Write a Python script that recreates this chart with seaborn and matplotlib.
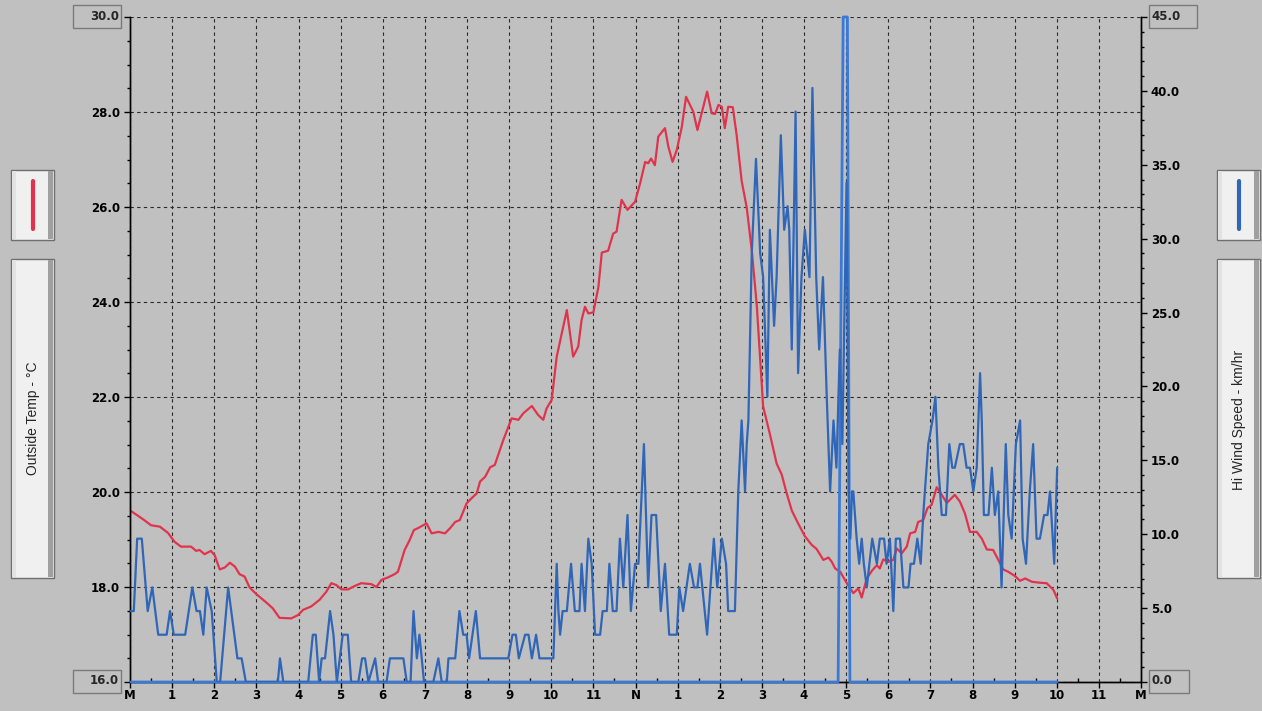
import numpy as np
import pandas as pd
import seaborn as sns
import matplotlib.pyplot as plt
from matplotlib.patches import Rectangle
from matplotlib.lines import Line2D

# ---- data (hours since midnight) ----
temp_hours = [0.02, 0.19, 0.35, 0.50, 0.71, 0.90, 1.06, 1.21, 1.45, 1.57, 1.65, 1.77, 1.92, 2.01,
              2.13, 2.25, 2.37, 2.49, 2.60, 2.72, 2.84, 3.00, 3.16, 3.28, 3.39, 3.55, 3.83, 3.99,
              4.11, 4.30, 4.50, 4.66, 4.78, 4.90, 5.02, 5.18, 5.33, 5.49, 5.73, 5.85, 5.97, 6.12,
              6.28, 6.36, 6.52, 6.64, 6.74, 6.84, 7.04, 7.16, 7.32, 7.48, 7.60, 7.72, 7.83, 7.99,
              8.11, 8.23, 8.31, 8.43, 8.55, 8.66, 8.86, 9.06, 9.22, 9.34, 9.54, 9.69, 9.81, 9.89,
              10.01, 10.13, 10.25, 10.37, 10.52, 10.64, 10.72, 10.80, 10.88, 11.00, 11.12, 11.20,
              11.35, 11.47, 11.55, 11.67, 11.81, 11.99, 12.11, 12.23, 12.30, 12.37, 12.46, 12.54,
              12.70, 12.78, 12.88, 12.98, 13.10, 13.20, 13.37, 13.47, 13.57, 13.70, 13.81, 13.89,
              13.97, 14.05, 14.12, 14.20, 14.31, 14.40, 14.52, 14.64, 14.76, 14.88, 15.03, 15.19,
              15.35, 15.47, 15.59, 15.71, 15.86, 16.02, 16.18, 16.30, 16.46, 16.58, 16.66, 16.74,
              16.86, 17.01, 17.17, 17.29, 17.37, 17.49, 17.61, 17.73, 17.80, 17.88, 18.00, 18.12,
              18.20, 18.32, 18.44, 18.52, 18.64, 18.71, 18.83, 18.93, 19.03, 19.15, 19.27, 19.39,
              19.58, 19.70, 19.82, 19.94, 20.10, 20.22, 20.34, 20.49, 20.73, 20.85, 21.01, 21.13,
              21.25, 21.41, 21.60, 21.76, 21.92, 22.01]
temp_c = [19.60, 19.50, 19.40, 19.30, 19.27, 19.14, 18.95, 18.85, 18.85, 18.76, 18.78, 18.69, 18.76, 18.67,
          18.37, 18.41, 18.51, 18.43, 18.27, 18.22, 17.99, 17.85, 17.73, 17.64, 17.55, 17.35, 17.34, 17.41,
          17.52, 17.59, 17.73, 17.90, 18.08, 18.04, 17.95, 17.95, 18.02, 18.08, 18.06, 18.00, 18.15, 18.20,
          18.27, 18.32, 18.78, 18.99, 19.20, 19.24, 19.34, 19.13, 19.16, 19.13, 19.24, 19.37, 19.41, 19.76,
          19.87, 19.97, 20.22, 20.32, 20.52, 20.57, 21.09, 21.55, 21.52, 21.66, 21.81, 21.62, 21.52, 21.76,
          21.94, 22.85, 23.34, 23.83, 22.85, 23.06, 23.62, 23.90, 23.76, 23.78, 24.32, 25.04,
          25.08, 25.44, 25.48, 26.15, 25.94, 26.11, 26.50, 26.95, 26.92, 27.02, 26.88, 27.48,
          27.66, 27.27, 26.95, 27.20, 27.69, 28.32, 28.01, 27.62, 27.97, 28.43, 27.97, 27.96,
          28.15, 28.11, 27.66, 28.11, 28.10, 27.52, 26.55, 25.99, 25.09, 23.92, 21.80, 21.22,
          20.60, 20.37, 19.97, 19.61, 19.34, 19.07, 18.89, 18.80, 18.57, 18.62, 18.53, 18.39,
          18.32, 18.09, 17.87, 17.97, 17.78, 18.18, 18.34, 18.46, 18.39, 18.58, 18.53, 18.57,
          18.81, 18.71, 18.85, 19.13, 19.16, 19.37, 19.41, 19.66, 19.73, 20.10, 19.94, 19.77,
          19.94, 19.80, 19.55, 19.16, 19.16, 19.02, 18.79, 18.78, 18.37, 18.32, 18.23, 18.13,
          18.18, 18.11, 18.09, 18.08, 17.94, 17.76]

wind_hours = [0.02, 0.09, 0.17, 0.28, 0.42, 0.53, 0.67, 0.87, 0.95, 1.04, 1.31, 1.48, 1.58, 1.66,
              1.74, 1.82, 1.94, 2.06, 2.14, 2.33, 2.55, 2.65, 2.75, 3.51, 3.56, 3.64, 4.23, 4.34,
              4.41, 4.49, 4.55, 4.63, 4.75, 4.83, 4.91, 5.05, 5.17, 5.25, 5.42, 5.51, 5.58, 5.66,
              5.82, 5.89, 6.09, 6.17, 6.49, 6.57, 6.66, 6.73, 6.81, 6.87, 6.98, 7.20, 7.32, 7.40,
              7.52, 7.56, 7.72, 7.82, 7.91, 7.99, 8.05, 8.21, 8.31, 8.98, 9.08, 9.16, 9.23, 9.38,
              9.46, 9.54, 9.64, 9.72, 10.05, 10.13, 10.17, 10.21, 10.27, 10.37, 10.47, 10.56,
              10.67, 10.72, 10.80, 10.88, 10.96, 11.04, 11.16, 11.22, 11.32, 11.38, 11.46, 11.55,
              11.63, 11.71, 11.81, 11.89, 11.99, 12.07, 12.20, 12.30, 12.38, 12.49, 12.60, 12.70,
              12.80, 12.98, 13.04, 13.13, 13.29, 13.39, 13.47, 13.53, 13.70, 13.86, 13.94, 14.05,
              14.15, 14.20, 14.36, 14.44, 14.52, 14.60, 14.64, 14.68, 14.76, 14.86, 14.96, 15.03,
              15.13, 15.19, 15.29, 15.35, 15.45, 15.53, 15.61, 15.65, 15.71, 15.80, 15.86, 15.94,
              16.02, 16.13, 16.20, 16.29, 16.36, 16.45, 16.54, 16.62, 16.70, 16.77, 16.85, 16.91,
              17.01, 17.06, 17.10, 17.14, 17.17, 17.25, 17.31, 17.37, 17.42, 17.49, 17.62, 17.73,
              17.80, 17.90, 17.96, 18.04, 18.12, 18.18, 18.28, 18.36, 18.48, 18.53, 18.61, 18.69,
              18.77, 18.83, 18.95, 19.05, 19.12, 19.19, 19.27, 19.37, 19.45, 19.52, 19.58, 19.70,
              19.78, 19.86, 19.94, 20.02, 20.10, 20.18, 20.22, 20.27, 20.38, 20.46, 20.53, 20.61,
              20.69, 20.79, 20.85, 20.93, 21.03, 21.13, 21.19, 21.27, 21.36, 21.44, 21.52, 21.60,
              21.70, 21.78, 21.84, 21.94, 22.01]
wind_kmh = [4.8, 4.8, 9.7, 9.7, 4.8, 6.4, 3.2, 3.2, 4.8, 3.2, 3.2, 6.4, 4.8, 4.8,
            3.2, 6.4, 4.8, 0.0, 0.0, 6.4, 1.6, 1.6, 0.0, 0.0, 1.6, 0.0, 0.0, 3.2,
            3.2, 0.0, 1.6, 1.6, 4.8, 3.2, 0.0, 3.2, 3.2, 0.0, 0.0, 1.6, 1.6, 0.0,
            1.6, 0.0, 0.0, 1.6, 1.6, 0.0, 0.0, 4.8, 1.6, 3.2, 0.0, 0.0, 1.6, 0.0,
            0.0, 1.6, 1.6, 4.8, 3.2, 3.2, 1.6, 4.8, 1.6, 1.6, 3.2, 3.2, 1.6, 3.2,
            3.2, 1.6, 3.2, 1.6, 1.6, 8.0, 4.8, 3.2, 4.8, 4.8, 8.0, 4.8,
            4.8, 8.0, 4.8, 9.7, 8.0, 3.2, 3.2, 4.8, 4.8, 8.0, 4.8, 4.8,
            9.7, 6.4, 11.3, 4.8, 8.0, 8.0, 16.1, 6.4, 11.3, 11.3, 4.8, 8.0,
            3.2, 3.2, 6.4, 4.8, 8.0, 6.4, 6.4, 8.0, 3.2, 9.7, 6.4, 9.7,
            8.0, 4.8, 4.8, 12.9, 17.7, 12.9, 16.1, 17.7, 29.0, 35.4, 29.0, 27.4,
            19.3, 30.6, 24.1, 27.4, 37.0, 30.6, 32.2, 30.6, 22.5, 38.6, 20.9, 27.4,
            30.6, 27.4, 40.2, 27.4, 22.5, 27.4, 19.3, 12.9, 17.7, 14.5, 22.5, 16.1,
            33.8, 12.9, 9.7, 12.9, 12.9, 9.7, 8.0, 9.7, 8.0, 6.4, 9.7, 8.0,
            9.7, 9.7, 8.0, 9.7, 4.8, 9.7, 9.7, 6.4, 6.4, 8.0, 8.0, 9.7,
            8.0, 11.3, 16.1, 17.7, 19.3, 14.5, 11.3, 11.3, 16.1, 14.5, 14.5, 16.1,
            16.1, 14.5, 14.5, 12.9, 14.5, 20.9, 17.7, 11.3, 11.3, 14.5, 11.3, 12.9,
            6.4, 16.1, 11.3, 9.7, 16.1, 17.7, 9.7, 8.0, 12.9, 16.1, 9.7, 9.7,
            11.3, 11.3, 12.9, 8.0, 14.5]

# second wind trace: flat zero with a single glitch spike
spike_hours = [0.02, 16.81, 16.93, 17.03, 17.09, 22.01]
spike_kmh = [0.0, 0.0, 45.0, 45.0, 0.0, 0.0]

hour_labels = ['M', '1', '2', '3', '4', '5', '6', '7', '8', '9', '10', '11',
               'N', '1', '2', '3', '4', '5', '6', '7', '8', '9', '10', '11', 'M']

BG = '#c0c0c0'
RED = '#e1344c'
BLUE = '#2f66b8'
LBLUE = '#3a7ad6'

sns.set_style('ticks')
plt.rcParams['font.family'] = ['DejaVu Sans']

W, H = 1262, 711
def fx(px):
    return px / W
def fy(py):
    return 1 - py / H

fig = plt.figure(figsize=(W / 100, H / 100), dpi=100, facecolor=BG)
ax = fig.add_axes([fx(130), fy(682), fx(1141) - fx(130), fy(17) - fy(682)])
ax.set_facecolor(BG)
ax2 = ax.twinx()

df_t = pd.DataFrame({'hour': temp_hours, 'temp': temp_c})
df_w = pd.DataFrame({'hour': wind_hours, 'wind': wind_kmh})
df_s = pd.DataFrame({'hour': spike_hours, 'wind': spike_kmh})

sns.lineplot(data=df_t, x='hour', y='temp', ax=ax, color=RED, lw=1.6,
             estimator=None, sort=False, legend=False)
sns.lineplot(data=df_s, x='hour', y='wind', ax=ax2, color=LBLUE, lw=2.0,
             estimator=None, sort=False, legend=False, clip_on=False, zorder=3)
sns.lineplot(data=df_w, x='hour', y='wind', ax=ax2, color=BLUE, lw=1.6,
             estimator=None, sort=False, legend=False, zorder=4)

ax.set_xlim(0, 24)
ax.set_ylim(16, 30)
ax2.set_ylim(0, 45)

# grid
ax.grid(True, which='major', color='#2a2a2a', linestyle=(0, (3, 3)), lw=0.8)
ax2.grid(False)

for a in (ax, ax2):
    a.set_xlabel('')
    a.set_ylabel('')
    a.spines['top'].set_visible(False)
    for s in ('left', 'right', 'bottom'):
        a.spines[s].set_color('black')
        a.spines[s].set_linewidth(1.0)

# ticks
ax.set_xticks(range(25))
ax.set_xticks(np.arange(0.5, 24, 1), minor=True)
ax.set_xticklabels(hour_labels, fontweight='bold', fontsize=8.5)
ax.tick_params(axis='x', which='major', direction='out', length=4, width=1, pad=1, colors='black')
ax.tick_params(axis='x', which='minor', direction='in', length=3, width=1, colors='black')

lt = np.arange(16, 30.1, 2)
ax.set_yticks(lt)
ax.set_yticks(np.arange(16, 30.1, 0.5), minor=True)
ax.set_yticklabels(['' if v in (16, 30) else f'{v:.1f}' for v in lt], fontweight='bold', fontsize=8.5)
ax.tick_params(axis='y', which='major', direction='out', length=4, width=1, pad=3, colors='black')
ax.tick_params(axis='y', which='minor', direction='out', length=2.5, width=1, colors='black')

rt = np.arange(0, 45.1, 5)
ax2.set_yticks(rt)
ax2.set_yticks(np.arange(0, 45.1, 1), minor=True)
ax2.set_yticklabels(['' if v in (0, 45) else f'{v:.1f}' for v in rt], fontweight='bold', fontsize=8.5)
ax2.tick_params(axis='y', which='major', direction='out', length=4, width=1, pad=3, colors='black')
ax2.tick_params(axis='y', which='minor', direction='out', length=2.5, width=1, colors='black')


def box(x0, y0, x1, y1, face='none', edge='#7a7a7a', lw=1.0):
    fig.add_artist(Rectangle((fx(x0), fy(y1)), fx(x1) - fx(x0), fy(y0) - fy(y1),
                             transform=fig.transFigure, facecolor=face, edgecolor=edge, lw=lw))


# boxed axis limit labels
box(73, 5, 121, 28)
fig.text(fx(119), fy(16), '30.0', ha='right', va='center', fontsize=8.5, fontweight='bold')
box(73, 670, 121, 693)
fig.text(fx(119), fy(681), '16.0', ha='right', va='center', fontsize=8.5, fontweight='bold')
box(1149, 5, 1197, 28)
fig.text(fx(1151), fy(16), '45.0', ha='left', va='center', fontsize=8.5, fontweight='bold')
box(1149, 670, 1189, 693)
fig.text(fx(1151), fy(681), '0.0', ha='left', va='center', fontsize=8.5, fontweight='bold')


def panel(x0, y0, x1, y1):
    box(x0, y0, x1, y1, face='#f0f0f0', edge='#6e6e6e')
    box(x0 + 1, y0 + 1, x0 + 5, y1 - 1, face='#e2e2e2', edge='none', lw=0)
    box(x1 - 6, y0 + 1, x1 - 1, y1 - 1, face='#a0a0a0', edge='none', lw=0)


# legend panels
panel(11, 170, 54, 240)
fig.add_artist(Line2D([fx(33), fx(33)], [fy(181), fy(229)], transform=fig.transFigure,
                      color=RED, lw=3, solid_capstyle='round'))
panel(11, 259, 54, 578)
fig.text(fx(33), fy(418), 'Outside Temp - °C', rotation=90, ha='center', va='center',
         fontsize=10, family='Liberation Sans')

panel(1217, 170, 1260, 240)
fig.add_artist(Line2D([fx(1239), fx(1239)], [fy(181), fy(229)], transform=fig.transFigure,
                      color=BLUE, lw=3, solid_capstyle='round'))
panel(1217, 259, 1260, 578)
fig.text(fx(1239), fy(420), 'Hi Wind Speed - km/hr', rotation=90, ha='center', va='center',
         fontsize=10, family='Liberation Sans')

fig.savefig('out.png', dpi=100, facecolor=BG)
